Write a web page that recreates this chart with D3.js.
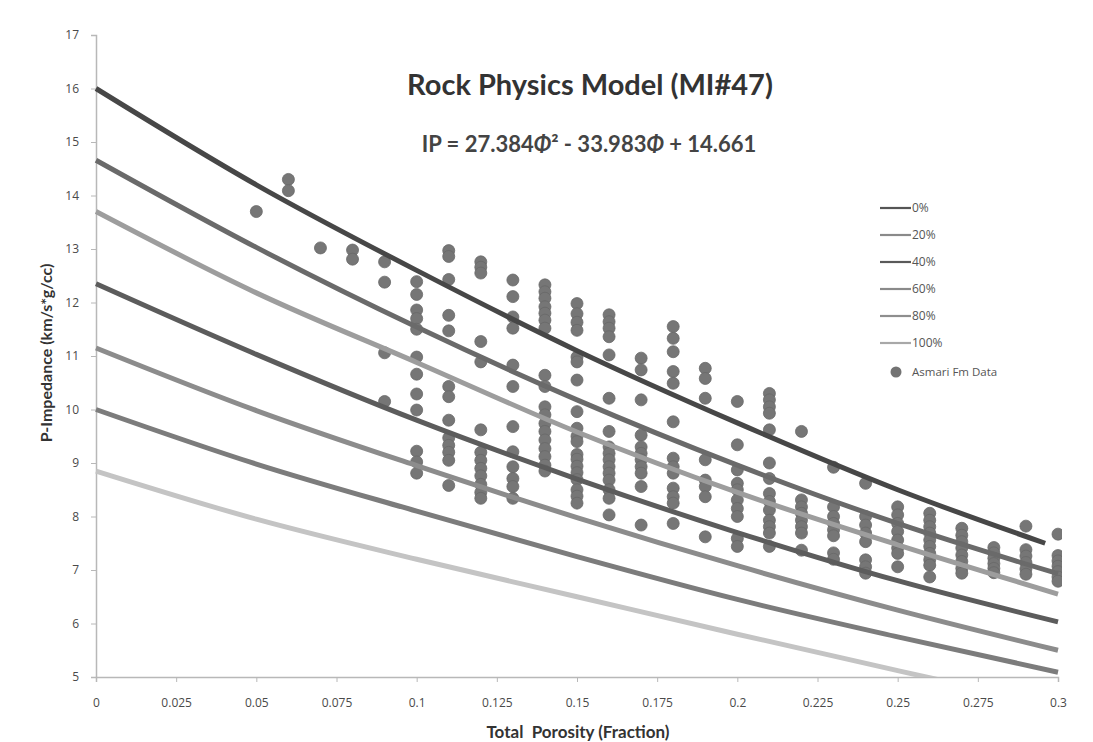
<!DOCTYPE html>
<html>
<head>
<meta charset="utf-8">
<script src="https://cdn.jsdelivr.net/npm/d3@7"></script>
<style>
  body { margin: 0; background: #fff; }
  svg { display: block; font-family: Lato, 'Open Sans', sans-serif; }
</style>
</head>
<body>
<div id="chart"></div>
<script>
// model curves, IP read at porosity grid
const porosityGrid = [0, 0.05, 0.1, 0.15, 0.2, 0.25, 0.3]
const porosityTop = [0, 0.05, 0.1, 0.15, 0.2, 0.25, 0.296]
const ip0 = [16.0, 14.2, 12.6, 11.1, 9.75, 8.5, 7.5]
const ipFit = [14.66, 13.03, 11.54, 10.18, 8.96, 7.87, 6.93]
const ip20 = [13.7, 12.18, 10.88, 9.58, 8.45, 7.47, 6.55]
const ip40 = [12.35, 11.03, 9.8, 8.7, 7.7, 6.8, 6.03]
const ip60 = [11.15, 9.98, 8.95, 7.98, 7.08, 6.25, 5.5]
const ip80 = [10.0, 8.98, 8.1, 7.25, 6.45, 5.75, 5.09]
const ip100 = [8.85, 7.95, 7.2, 6.5, 5.8, 5.12, 4.45]

const legendLabels = ['0%', '20%', '40%', '60%', '80%', '100%']
const dataLabel = 'Asmari Fm Data'

// Asmari Fm data, column by column: [porosity, IP values]
const asmariColumns = [
  [0.05, [13.7]],
  [0.06, [14.3, 14.09]],
  [0.07, [13.02]],
  [0.08, [12.98, 12.81]],
  [0.09, [12.76, 12.38, 11.06, 10.15]],
  [0.10, [12.39, 12.15, 11.86, 11.7, 11.5, 10.98, 10.66, 10.29, 9.99, 9.22, 9.02, 8.81]],
  [0.11, [12.97, 12.86, 12.43, 11.76, 11.47, 10.43, 10.24, 9.8, 9.47, 9.33, 9.2, 9.05, 8.58]],
  [0.12, [12.76, 12.66, 12.55, 11.27, 10.89, 9.62, 9.2, 9.05, 8.9, 8.76, 8.6, 8.45, 8.34]],
  [0.13, [12.42, 12.11, 11.73, 11.52, 10.83, 10.43, 9.68, 9.21, 8.93, 8.71, 8.56, 8.34]],
  [0.14, [12.33, 12.2, 12.08, 11.92, 11.8, 11.67, 11.52, 10.64, 10.43, 10.05, 9.9, 9.74, 9.59, 9.43, 9.27, 9.12, 8.96, 8.85]],
  [0.15, [11.98, 11.79, 11.63, 11.48, 10.98, 10.89, 10.55, 9.96, 9.65, 9.5, 9.4, 9.16, 9.07, 8.94, 8.82, 8.69, 8.5, 8.38, 8.25]],
  [0.16, [11.77, 11.64, 11.52, 11.36, 11.02, 10.21, 9.59, 9.3, 9.18, 9.06, 8.93, 8.81, 8.68, 8.5, 8.34, 8.03]],
  [0.17, [10.96, 10.74, 10.18, 9.52, 9.3, 9.18, 9.06, 8.93, 8.81, 8.56, 7.84]],
  [0.18, [11.55, 11.33, 11.08, 10.71, 10.49, 9.77, 9.09, 8.93, 8.81, 8.53, 8.37, 8.25, 7.87]],
  [0.19, [10.77, 10.58, 10.21, 9.06, 8.68, 8.56, 8.37, 7.62]],
  [0.20, [10.15, 9.34, 8.87, 8.62, 8.5, 8.31, 8.15, 8.0, 7.59, 7.44]],
  [0.21, [10.3, 10.18, 10.05, 9.93, 9.62, 9.0, 8.71, 8.43, 8.28, 8.12, 7.93, 7.81, 7.69, 7.44]],
  [0.22, [9.59, 8.31, 8.18, 8.06, 7.93, 7.81, 7.69, 7.37]],
  [0.23, [8.92, 8.18, 8.0, 7.87, 7.75, 7.64, 7.32, 7.2]],
  [0.24, [8.62, 8.0, 7.84, 7.69, 7.53, 7.19, 7.06, 6.94]],
  [0.25, [8.18, 8.03, 7.87, 7.72, 7.56, 7.41, 7.31, 7.06]],
  [0.26, [8.06, 7.93, 7.81, 7.69, 7.56, 7.44, 7.31, 7.19, 7.09, 6.87]],
  [0.27, [7.78, 7.65, 7.53, 7.41, 7.28, 7.16, 7.03, 6.94]],
  [0.28, [7.42, 7.32, 7.22, 7.12, 7.03, 6.95]],
  [0.29, [7.82, 7.38, 7.26, 7.14, 7.02, 6.92]],
  [0.30, [7.67, 7.27, 7.17, 7.07, 6.97, 6.87, 6.79]]
]

const xTicks = [0, 0.025, 0.05, 0.075, 0.1, 0.125, 0.15, 0.175, 0.2, 0.225, 0.25, 0.275, 0.3]
const yTicks = [5, 6, 7, 8, 9, 10, 11, 12, 13, 14, 15, 16, 17]

const width = 1093
const height = 742
const margin = { top: 35, right: 35, bottom: 65, left: 96 }
const boundWidth = width - margin.left - margin.right
const boundHeight = height - margin.top - margin.bottom

const svg = d3.select('#chart')
  .append('svg')
  .attr('width', width)
  .attr('height', height)

const x = d3.scaleLinear().domain([0, 0.3]).range([0, boundWidth])
const y = d3.scaleLinear().domain([5, 17]).range([boundHeight, 0])

const bounds = svg.append('g')
  .attr('transform', `translate(${margin.left}, ${margin.top})`)

bounds.append('clipPath').attr('id', 'plot-clip')
  .append('rect')
  .attr('x', -4).attr('y', -4)
  .attr('width', boundWidth + 8)
  .attr('height', boundHeight + 4)

// axes
const xAxis = bounds.append('g')
  .attr('transform', `translate(0, ${boundHeight})`)
  .call(d3.axisBottom(x).tickValues(xTicks).tickFormat(d => String(+d.toFixed(3))).tickSize(5).tickPadding(16))
const yAxis = bounds.append('g')
  .call(d3.axisLeft(y).tickValues(yTicks).tickSize(5).tickPadding(12))

;[xAxis, yAxis].forEach(g => {
  g.select('.domain').attr('stroke', '#b8b8b8').attr('stroke-width', 1.5)
  g.selectAll('.tick line').attr('stroke', '#b8b8b8')
  g.selectAll('.tick text')
    .attr('fill', '#4a4a4a')
    .style('font-size', '12px')
    .style('font-family', "'Open Sans', sans-serif")
})

// model lines
const curves = [
  { xs: porosityGrid, ys: ip100, color: '#c4c4c4' },
  { xs: porosityGrid, ys: ip80, color: '#7c7c7c' },
  { xs: porosityGrid, ys: ip60, color: '#8c8c8c' },
  { xs: porosityGrid, ys: ip40, color: '#5c5c5c' },
  { xs: porosityGrid, ys: ip20, color: '#9d9d9d' },
  { xs: porosityGrid, ys: ipFit, color: '#6a6a6a' },
  { xs: porosityTop, ys: ip0, color: '#474747' }
]

const line = d3.line()
  .x(d => x(d[0]))
  .y(d => y(d[1]))
  .curve(d3.curveMonotoneX)

const plot = bounds.append('g').attr('clip-path', 'url(#plot-clip)')

// points sit under the upper curves
const points = asmariColumns.flatMap(([phi, vals]) => vals.map(v => [phi, v]))
plot.append('g')
  .selectAll('circle')
  .data(points)
  .join('circle')
  .attr('cx', d => x(d[0]))
  .attr('cy', d => y(d[1]))
  .attr('r', 6)
  .attr('fill', '#767676')
  .attr('stroke', '#686868')
  .attr('stroke-width', 0.8)

plot.append('g')
  .selectAll('path')
  .data(curves)
  .join('path')
  .attr('d', c => line(c.xs.map((p, i) => [p, c.ys[i]])))
  .attr('fill', 'none')
  .attr('stroke', c => c.color)
  .attr('stroke-width', 5)
  .attr('stroke-linecap', 'butt')

// titles
svg.append('text')
  .attr('x', 590).attr('y', 95)
  .attr('text-anchor', 'middle')
  .attr('fill', '#333')
  .style('font-size', '29px')
  .style('font-weight', 'bold')
  .text('Rock Physics Model (MI#47)')

const eq = svg.append('text')
  .attr('x', 589).attr('y', 152)
  .attr('text-anchor', 'middle')
  .attr('fill', '#444')
  .style('font-size', '22px')
  .style('font-weight', 'bold')
eq.append('tspan').text('IP = 27.384')
eq.append('tspan').attr('font-style', 'italic').text('Φ')
eq.append('tspan').text('² - 33.983')
eq.append('tspan').attr('font-style', 'italic').text('Φ')
eq.append('tspan').text(' + 14.661')

svg.append('text')
  .attr('transform', `translate(52, ${margin.top + boundHeight / 2 - 3}) rotate(-90)`)
  .attr('text-anchor', 'middle')
  .attr('fill', '#333')
  .style('font-size', '16px')
  .style('font-weight', 'bold')
  .text('P-Impedance (km/s*g/cc)')

svg.append('text')
  .attr('x', 578).attr('y', 738)
  .attr('text-anchor', 'middle')
  .attr('fill', '#333')
  .style('font-size', '17px')
  .style('font-weight', 'bold')
  .style('white-space', 'pre')
  .text('Total  Porosity (Fraction)')

// legend
const legendColors = ['#555', '#8a8a8a', '#5a5a5a', '#8a8a8a', '#8e8e8e', '#a8a8a8']
const legend = svg.append('g').attr('transform', 'translate(880, 208)')
legendLabels.forEach((lab, i) => {
  const g = legend.append('g').attr('transform', `translate(0, ${i * 27})`)
  g.append('line')
    .attr('x1', 0).attr('x2', 31)
    .attr('stroke', legendColors[i])
    .attr('stroke-width', 2.2)
  g.append('text')
    .attr('x', 32).attr('y', 4)
    .attr('fill', '#555')
    .style('font-size', '12px')
    .style('font-family', "'Open Sans', sans-serif")
    .text(lab)
})
const dataKey = legend.append('g').attr('transform', `translate(0, ${6 * 27 + 2})`)
dataKey.append('circle').attr('cx', 16).attr('r', 5.5).attr('fill', '#737373')
dataKey.append('text')
  .attr('x', 32).attr('y', 4)
  .attr('fill', '#555')
  .style('font-size', '11.5px')
  .style('font-family', "'Open Sans', sans-serif")
  .text(dataLabel)
</script>
</body>
</html>
